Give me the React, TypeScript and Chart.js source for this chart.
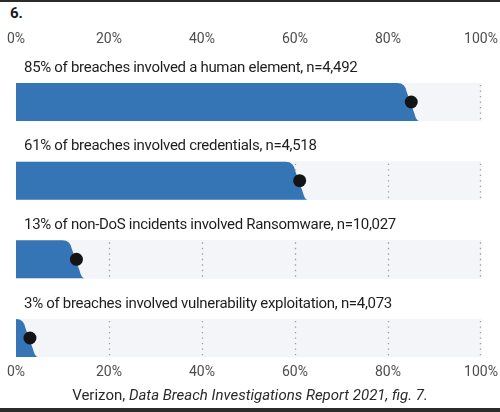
import React, { useEffect, useRef } from 'react';
import { Chart, registerables } from 'chart.js';

Chart.register(...registerables);

const categories = [
  '85% of breaches involved a human element, n=4,492',
  '61% of breaches involved credentials, n=4,518',
  '13% of non-DoS incidents involved Ransomware, n=10,027',
  '3% of breaches involved vulnerability exploitation, n=4,073',
];
const shares = [85, 61, 13, 3];
const trackValues = [100, 100, 100, 100];
const tickValues = [0, 20, 40, 60, 80, 100];

const BLUE = '#3574b5';
const TRACK = '#f3f5f8';
const DOT = '#141414';

// row index on the vertical scale, so the rows sit between the two axes
const rows = (vals: number[]) => vals.map((v, i) => ({ x: v, y: i }));

// draws the dotted guides inside each track, the flared blue bars and the row labels
const dbirPlugin = {
  id: 'dbirBars',
  afterDatasetDraw(chart: any, args: any) {
    const ctx = chart.ctx;
    const xScale = chart.scales.x;
    if (args.index === 0) {
      const meta = chart.getDatasetMeta(0);
      ctx.save();
      ctx.strokeStyle = '#9aa0a6';
      ctx.lineWidth = 1.3;
      ctx.setLineDash([1.3, 4.2]);
      meta.data.forEach((bar: any) => {
        const { y, height } = bar.getProps(['y', 'height'], true);
        xScale.ticks.forEach((t: any) => {
          if (t.value <= 0) return;
          const px = Math.min(Math.round(xScale.getPixelForValue(t.value)), xScale.right - 1) + 0.5;
          ctx.beginPath();
          ctx.moveTo(px, y - height / 2 + 2);
          ctx.lineTo(px, y + height / 2);
          ctx.stroke();
        });
      });
      ctx.restore();
    }
    if (args.index === 1) {
      const meta = chart.getDatasetMeta(1);
      ctx.save();
      ctx.fillStyle = BLUE;
      meta.data.forEach((bar: any) => {
        const { x, y, base, height } = bar.getProps(['x', 'y', 'base', 'height'], true);
        const t = y - height / 2;
        const b = y + height / 2;
        const xt = x - 6;
        const xb = x + 7;
        ctx.beginPath();
        ctx.moveTo(base, t);
        ctx.lineTo(Math.max(base, xt - 8), t);
        ctx.quadraticCurveTo(xt, t, xt + 1.5, t + 9);
        ctx.lineTo(xb - 4, b - 8);
        ctx.quadraticCurveTo(xb - 2, b, xb + 1, b);
        ctx.lineTo(base, b);
        ctx.closePath();
        ctx.fill();
      });
      ctx.restore();
    }
  },
  afterDraw(chart: any) {
    const ctx = chart.ctx;
    const meta = chart.getDatasetMeta(0);
    ctx.save();
    ctx.font = '15px Roboto';
    (ctx as any).letterSpacing = '-0.3px';
    ctx.fillStyle = '#1e1e1e';
    ctx.textBaseline = 'middle';
    ctx.textAlign = 'left';
    meta.data.forEach((bar: any, i: number) => {
      const { y, base, height } = bar.getProps(['y', 'base', 'height'], true);
      ctx.fillText(chart.data.labels[i], base + 8, y - height / 2 - 15);
    });
    ctx.restore();
  },
};

const axisTicks = {
  padding: 2,
  color: '#4d4d4d',
  font: { family: 'Roboto', size: 14 },
  maxRotation: 0,
  autoSkip: false,
  callback: (v: any) => `${v}%`,
};

export default function App() {
  const canvasRef = useRef<HTMLCanvasElement>(null);

  useEffect(() => {
    if (!canvasRef.current) return;
    const chart = new Chart(canvasRef.current, {
      type: 'bar',
      data: {
        labels: categories,
        datasets: [
          {
            type: 'bar',
            data: rows(trackValues),
            backgroundColor: TRACK,
            barThickness: 38,
            grouped: false,
            order: 3,
            clip: false,
            xAxisID: 'x',
            yAxisID: 'y',
          } as any,
          {
            type: 'bar',
            data: rows(shares),
            backgroundColor: 'rgba(0,0,0,0)',
            barThickness: 38,
            grouped: false,
            order: 2,
            clip: false,
            xAxisID: 'x',
            yAxisID: 'y',
          } as any,
          {
            type: 'line',
            indexAxis: 'y',
            data: rows(shares),
            showLine: false,
            pointRadius: 6.5,
            pointHoverRadius: 6.5,
            pointBackgroundColor: DOT,
            pointBorderColor: DOT,
            pointBorderWidth: 0,
            order: 0,
            clip: false,
            xAxisID: 'x',
            yAxisID: 'y',
          } as any,
        ],
      },
      options: {
        indexAxis: 'y',
        responsive: true,
        maintainAspectRatio: false,
        animation: false,
        events: [],
        layout: { padding: { left: 16, right: 19, top: 28.6, bottom: 29.6 } },
        plugins: {
          legend: { display: false },
          tooltip: { enabled: false },
        },
        scales: {
          y: {
            type: 'linear',
            reverse: true,
            offset: false,
            min: -0.669,
            max: 3.3,
            display: false,
          },
          x: {
            type: 'linear',
            axis: 'x',
            position: 'bottom',
            min: 0,
            max: 100,
            grid: { display: false, drawTicks: false },
            border: { display: false },
            ticks: axisTicks,
            afterBuildTicks: (s: any) => {
              s.ticks = tickValues.map((v) => ({ value: v }));
            },
          },
          x2: {
            type: 'linear',
            axis: 'x',
            position: 'top',
            min: 0,
            max: 100,
            grid: { display: false, drawTicks: false },
            border: { display: false },
            ticks: axisTicks,
            afterBuildTicks: (s: any) => {
              s.ticks = tickValues.map((v) => ({ value: v }));
            },
          },
        } as any,
      },
      plugins: [dbirPlugin],
    });
    return () => chart.destroy();
  }, []);

  return (
    <div
      style={{
        position: 'fixed',
        left: 0,
        top: 0,
        width: 500,
        height: 412,
        background: '#fff',
        fontFamily: 'Roboto, sans-serif',
      }}
    >
      <div style={{ position: 'absolute', left: 0, top: 0, width: 500, height: 2, background: '#2b2b2b' }} />
      <div
        style={{
          position: 'absolute',
          left: 10,
          top: 4,
          fontWeight: 700,
          fontSize: 15,
          lineHeight: '18px',
          color: '#1a1a1a',
        }}
      >
        6.
      </div>
      <div style={{ position: 'absolute', left: 0, top: 0, width: 500, height: 412 }}>
        <canvas ref={canvasRef} />
      </div>
      <div
        style={{
          position: 'absolute',
          left: 0,
          top: 386,
          width: 500,
          textAlign: 'center',
          fontSize: 15,
          lineHeight: '18px',
          color: '#2a2a2a',
        }}
      >
        Verizon, <i>Data Breach Investigations Report 2021, fig. 7.</i>
      </div>
      <div style={{ position: 'absolute', left: 0, top: 408, width: 500, height: 4, background: '#2b2b2b' }} />
    </div>
  );
}
